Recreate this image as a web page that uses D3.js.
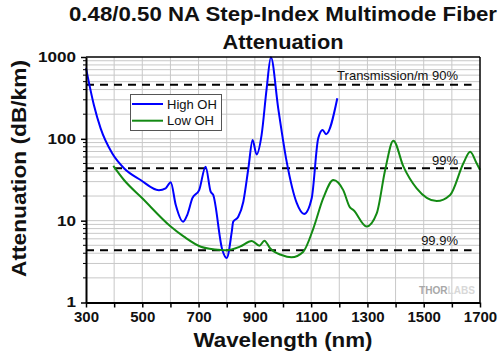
<!DOCTYPE html>
<html><head><meta charset="utf-8">
<script src="https://cdn.jsdelivr.net/npm/d3@7"></script>
<style>body{margin:0;background:#fff}svg{display:block}text{font-family:"Liberation Sans",Arial,sans-serif}</style>
</head><body>
<svg id="c" width="502" height="355"></svg>
<script>
const titleLines = ["0.48/0.50 NA Step-Index Multimode Fiber", "Attenuation"];
const xLabel = "Wavelength (nm)";
const yLabel = "Attenuation (dB/km)";
const xTicks = [300, 500, 700, 900, 1100, 1300, 1500, 1700];
const yTicks = [1, 10, 100, 1000];
const seriesNames = ["High OH", "Low OH"];
const highOH_nm = [300,328,352,393,435,494,559,583,601,619,645,660,678,702,725,743,752,784,800,818,823,841,859,877,892,906,924,942,957,983,1013,1049,1075,1102,1125,1141,1153,1193];
const highOH_val = [732,259,134,66.5,43.7,31.4,23.6,24.8,29.5,15.5,9.7,11.8,18.8,23.6,45.7,22.6,20.6,4.45,3.5,7.35,9.7,11.15,17.05,43.7,97,64.5,112,415,990,236,52.6,16.35,12.07,18.8,101,128,114,313];
const lowOH_nm = [397,435,500,601,648,708,779,800,847,889,916,934,954,995,1030,1072,1108,1143,1179,1214,1238,1250,1297,1333,1363,1392,1428,1475,1546,1594,1641,1665,1688,1700];
const lowOH_val = [46.7,31.4,18.8,8.48,6.37,4.81,4.38,4.35,4.81,5.65,4.94,5.7,4.6,3.8,3.56,4.18,8.07,18.8,31.4,23.6,14.5,13.5,8.48,12.27,41.7,95,45.7,24.8,17.35,20.6,50.2,69.5,50.2,41.7];
const refNames = ["Transmission/m 90%", "99%", "99.9%"];
const refValues = [457.6, 43.6, 4.35];

const svg = d3.select("#c");
const L = 86, R = 480, T = 57, B = 302.5;
const x = d3.scaleLinear().domain([300, 1700]).range([L, R]);
const y = d3.scaleLog().domain([1, 1000]).range([B, T]);

// grid
const g = svg.append("g");
g.selectAll("line.vg").data(d3.range(400, 1700, 100)).join("line")
  .attr("x1", d => x(d)).attr("x2", d => x(d)).attr("y1", T).attr("y2", B)
  .attr("stroke", "#c8c8c8").attr("stroke-width", 1);
const minorVals = [];
[1, 10, 100].forEach(dec => { for (let k = 2; k <= 9; k++) minorVals.push(dec * k); });
const allY = minorVals.concat([10, 100]);
g.selectAll("line.hg").data(allY).join("line")
  .attr("x1", L).attr("x2", R).attr("y1", d => y(d)).attr("y2", d => y(d))
  .attr("stroke", "#c8c8c8").attr("stroke-width", 1);

// reference dashed lines
svg.append("g").selectAll("line").data(refValues).join("line")
  .attr("x1", x(300)).attr("x2", x(1670)).attr("y1", d => y(d)).attr("y2", d => y(d))
  .attr("stroke", "#000").attr("stroke-width", 2).attr("stroke-dasharray", "8,6");
const refLabelY = [79.5, 165, 245];
svg.append("g").selectAll("text").data(refNames).join("text")
  .attr("x", 458).attr("y", (d, i) => refLabelY[i]).attr("text-anchor", "end")
  .attr("font-size", 13).attr("fill", "#111").text(d => d);

// curves
const line = d3.line().x(d => x(d[0])).y(d => y(d[1])).curve(d3.curveMonotoneX);
svg.append("path").datum(highOH_nm.map((n, i) => [n, highOH_val[i]]))
  .attr("d", line).attr("fill", "none").attr("stroke", "#0000ff").attr("stroke-width", 2);
svg.append("path").datum(lowOH_nm.map((n, i) => [n, lowOH_val[i]]))
  .attr("d", line).attr("fill", "none").attr("stroke", "#138a13").attr("stroke-width", 2);

// frame top/right
svg.append("line").attr("x1", L).attr("x2", R).attr("y1", T).attr("y2", T).attr("stroke", "#000").attr("stroke-width", 1.5);
svg.append("line").attr("x1", R).attr("x2", R).attr("y1", T).attr("y2", B).attr("stroke", "#000").attr("stroke-width", 1.5);

// axes
const xAxis = d3.axisBottom(x).tickValues(d3.range(300, 1701, 100))
  .tickFormat(d => xTicks.includes(d) ? d : "").tickSizeInner(5).tickSizeOuter(0).tickPadding(4);
const xg = svg.append("g").attr("transform", `translate(0,${B})`).call(xAxis);
xg.select(".domain").attr("stroke-width", 2);
xg.selectAll("line").attr("stroke-width", 1.5);
xg.selectAll("text").attr("font-size", 15).attr("font-weight", "bold").attr("fill", "#111");

const yAxis = d3.axisLeft(y).tickValues(yTicks).tickFormat(d => d).tickSizeInner(5).tickSizeOuter(0).tickPadding(5);
const yg = svg.append("g").attr("transform", `translate(${L},0)`).call(yAxis);
yg.select(".domain").attr("stroke-width", 2);
yg.selectAll("line").attr("stroke-width", 1.5);
yg.selectAll("text").attr("font-size", 14).attr("font-weight", "bold").attr("fill", "#111")
  .attr("textLength", d => String(d).length * 9.5).attr("lengthAdjust", "spacingAndGlyphs");
svg.append("g").selectAll("line").data(minorVals).join("line")
  .attr("x1", L - 3).attr("x2", L).attr("y1", d => y(d)).attr("y2", d => y(d))
  .attr("stroke", "#000").attr("stroke-width", 1);

// titles
const cx = (L + R) / 2;
svg.append("text").attr("x", cx).attr("y", 21).attr("text-anchor", "middle")
  .attr("font-size", 21).attr("font-weight", "bold").attr("fill", "#111")
  .attr("textLength", 428).attr("lengthAdjust", "spacingAndGlyphs").text(titleLines[0]);
svg.append("text").attr("x", cx).attr("y", 49).attr("text-anchor", "middle")
  .attr("font-size", 21).attr("font-weight", "bold").attr("fill", "#111")
  .attr("textLength", 121).attr("lengthAdjust", "spacingAndGlyphs").text(titleLines[1]);
svg.append("text").attr("x", cx).attr("y", 347).attr("text-anchor", "middle")
  .attr("font-size", 21).attr("font-weight", "bold").attr("fill", "#111")
  .attr("textLength", 179).attr("lengthAdjust", "spacingAndGlyphs").text(xLabel);
svg.append("text").attr("transform", `translate(26,168.5) rotate(-90)`).attr("text-anchor", "middle")
  .attr("font-size", 20).attr("font-weight", "bold").attr("fill", "#111")
  .attr("textLength", 217).attr("lengthAdjust", "spacingAndGlyphs").text(yLabel);

// legend
const lg = svg.append("g");
lg.append("rect").attr("x", 130.5).attr("y", 94.5).attr("width", 91).attr("height", 36)
  .attr("fill", "#fff").attr("stroke", "#555").attr("stroke-width", 1);
const lcol = ["#0000ff", "#138a13"];
seriesNames.forEach((s, i) => {
  const yy = 104 + i * 16.7;
  lg.append("line").attr("x1", 132).attr("x2", 163).attr("y1", yy).attr("y2", yy).attr("stroke", lcol[i]).attr("stroke-width", 2);
  lg.append("text").attr("x", 167).attr("y", yy + 4.5).attr("font-size", 13).attr("fill", "#111").text(s);
});

// logo
const logo = svg.append("text").attr("x", 419).attr("y", 294).attr("font-size", 10).attr("font-weight", "bold")
  .attr("textLength", 56).attr("lengthAdjust", "spacingAndGlyphs");
logo.append("tspan").attr("fill", "#a8a8a8").text("THOR");
logo.append("tspan").attr("fill", "#d8d8d8").text("LABS");
</script>
</body></html>
